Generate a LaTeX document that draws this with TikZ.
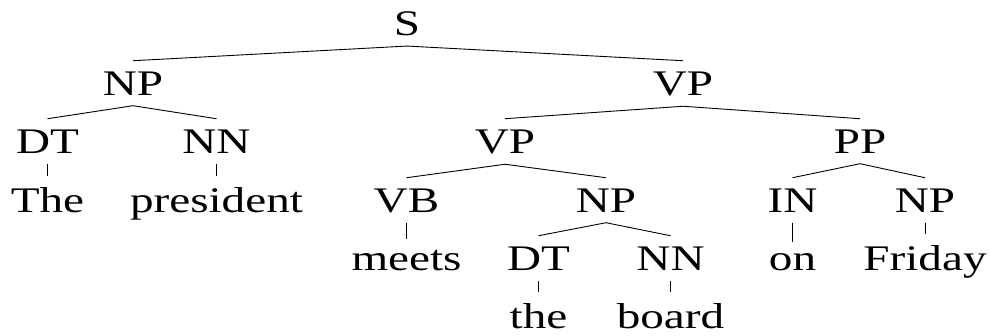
\documentclass[tikz,border=0pt]{standalone}
\usepackage{fontspec}
\setmainfont{Liberation Serif}[FakeStretch=1.31]
\begin{document}
\begin{tikzpicture}[x=1pt,y=-1pt,
  lbl/.style={anchor=base,inner xsep=0pt,inner ysep=10.5pt,
    font=\fontsize{36}{40}\selectfont},
  edge/.style={line width=0.9pt}]
\useasboundingbox (0,0) rectangle (990,335);
% constituents
\node[lbl] (s)    at (407,35)  {S};
\node[lbl] (np1)  at (133,95)  {NP};
\node[lbl] (vp1)  at (683,95)  {VP};
\node[lbl] (dt1)  at (47.5,153)  {DT};
\node[lbl] (nn1)  at (216.5,153) {NN};
\node[lbl] (vp2)  at (505,153) {VP};
\node[lbl] (pp)   at (860,153) {PP};
\node[lbl] (w1)   at (47.5,212)  {The};
\node[lbl] (w2)   at (216.5,212) {president};
\node[lbl] (vb)   at (406.5,212) {VB};
\node[lbl] (np2)  at (606,212) {NP};
\node[lbl] (in)   at (792.5,212) {IN};
\node[lbl] (np3)  at (925,212) {NP};
\node[lbl] (w3)   at (406.5,270) {meets};
\node[lbl] (dt2)  at (538.5,270) {DT};
\node[lbl] (nn2)  at (670.5,270) {NN};
\node[lbl] (w6)   at (792.5,270) {on};
\node[lbl] (w7)   at (925,270) {Friday};
\node[lbl] (w4)   at (538.5,328) {the};
\node[lbl] (w5)   at (670.5,328) {board};
% branches
\draw[edge] (np1.north) -- (s.south) -- (vp1.north);
\draw[edge] (dt1.north) -- (np1.south) -- (nn1.north);
\draw[edge] (vp2.north) -- (vp1.south) -- (pp.north);
\draw[edge] (dt1.south) -- (w1.north);
\draw[edge] (nn1.south) -- (w2.north);
\draw[edge] (vb.north) -- (vp2.south) -- (np2.north);
\draw[edge] (in.north) -- (pp.south) -- (np3.north);
\draw[edge] (vb.south) -- (w3.north);
\draw[edge] (dt2.north) -- (np2.south) -- (nn2.north);
\draw[edge] (in.south) -- (w6.north);
\draw[edge] (np3.south) -- (w7.north);
\draw[edge] (dt2.south) -- (w4.north);
\draw[edge] (nn2.south) -- (w5.north);
\end{tikzpicture}
\end{document}
